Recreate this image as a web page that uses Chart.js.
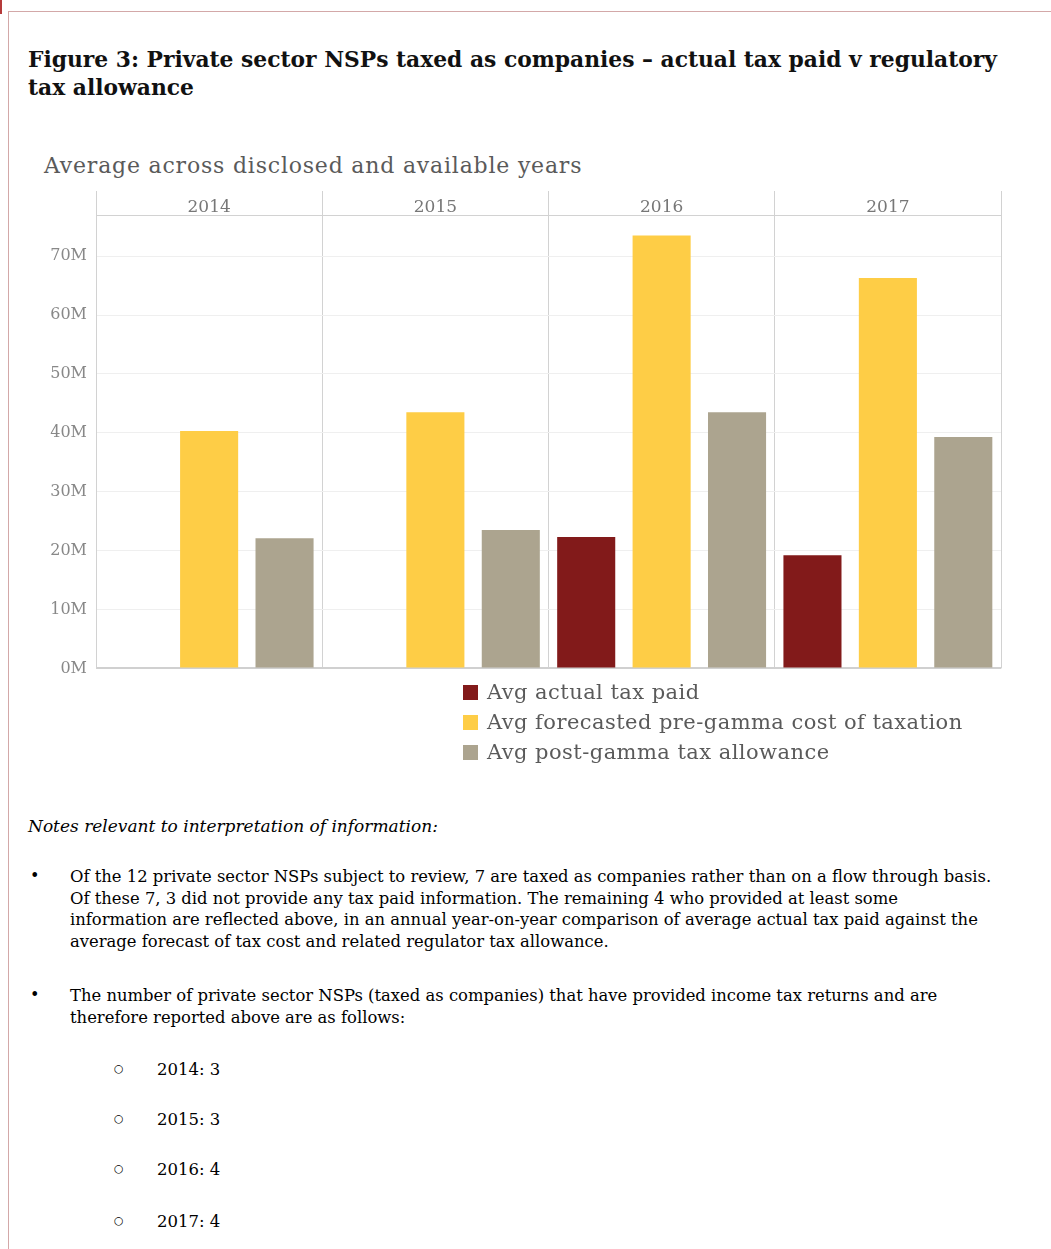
<!DOCTYPE html>
<html>
<head>
<meta charset="utf-8">
<script src="https://cdn.jsdelivr.net/npm/chart.js@4"></script>
<style>
  html, body { margin: 0; padding: 0; background: #fff; }
  body { width: 1051px; height: 1249px; position: relative; overflow: hidden; }
  .mark { position: absolute; left: 0; top: 0; width: 2px; height: 14px; background: #b53a3a; }
  .frame { position: absolute; left: 8px; top: 11px; right: -2px; bottom: -2px;
           border-top: 1px solid #d3a8a8; border-left: 1px solid #d3a8a8; }
  .title { position: absolute; left: 28px; top: 46px; font-family: "DejaVu Serif", serif;
           font-weight: bold; font-size: 21.8px; line-height: 28px; color: #111; white-space: nowrap; }
  .subtitle { position: absolute; left: 44px; top: 151px; font-family: "DejaVu Serif", serif;
              font-size: 22px; letter-spacing: 0.8px; line-height: 30px; color: #5a5a5a; white-space: nowrap; }
  #wrap { position: absolute; left: 0; top: 180px; width: 1051px; height: 507px; }
  #legend { position: absolute; left: 463px; top: 677px; font-family: "DejaVu Serif", serif;
            font-size: 21px; letter-spacing: 0.45px; color: #5a5a5a; }
  #legend div { height: 30px; line-height: 30px; white-space: nowrap; }
  #legend span.sw { display: inline-block; width: 15px; height: 15px; margin-right: 9px; vertical-align: -1px; }
  .notes { font-family: "DejaVu Serif", serif; color: #000; }
  .nhead { position: absolute; left: 28px; top: 814px; font-style: italic; font-size: 17px; line-height: 24px; white-space: nowrap; }
  .bul { position: absolute; left: 30px; font-size: 16px; }
  .para { position: absolute; left: 70px; font-size: 16.4px; line-height: 21.7px; white-space: nowrap; }
  .circ { position: absolute; left: 114px; font-size: 11px; }
  .sub { position: absolute; left: 157px; font-size: 16.5px; line-height: 22px; white-space: nowrap; }
</style>
</head>
<body>
<div class="mark"></div>
<div class="frame"></div>
<div class="title">Figure 3: Private sector NSPs taxed as companies – actual tax paid v regulatory<br>tax allowance</div>
<div class="subtitle">Average across disclosed and available years</div>
<div id="wrap"><canvas id="chart"></canvas></div>
<div id="legend"></div>

<div class="notes">
  <div class="nhead">Notes relevant to interpretation of information:</div>
  <div class="bul" style="top:866px">•</div>
  <div class="para" style="top:866px">Of the 12 private sector NSPs subject to review, 7 are taxed as companies rather than on a flow through basis.<br>Of these 7, 3 did not provide any tax paid information. The remaining 4 who provided at least some<br>information are reflected above, in an annual year-on-year comparison of average actual tax paid against the<br>average forecast of tax cost and related regulator tax allowance.</div>
  <div class="bul" style="top:985px">•</div>
  <div class="para" style="top:985px">The number of private sector NSPs (taxed as companies) that have provided income tax returns and are<br>therefore reported above are as follows:</div>
  <div id="sublist"></div>
</div>

<script>
// Years shown across the top header
const years = ['2014', '2015', '2016', '2017'];

// Series values (average, in dollars)
const actualTaxPaid = [null, null, 22.3e6, 19.2e6];
const forecastPreGamma = [40.3e6, 43.5e6, 73.5e6, 66.3e6];
const postGammaAllowance = [22.1e6, 23.5e6, 43.5e6, 39.3e6];

// Series names and colours
const seriesNames = ['Avg actual tax paid', 'Avg forecasted pre-gamma cost of taxation', 'Avg post-gamma tax allowance'];
const seriesColors = ['#821a1a', '#fecd46', '#aca48f'];

// Value axis ticks
const yTickValues = [0, 10e6, 20e6, 30e6, 40e6, 50e6, 60e6, 70e6];
const yMax = 77e6;

// Number of NSPs reporting per year
const reportCounts = [3, 3, 4, 4];

const seriesValues = [actualTaxPaid, forecastPreGamma, postGammaAllowance];

const data = {
  labels: years,
  datasets: seriesNames.map((name, i) => ({
    label: name,
    data: seriesValues[i],
    backgroundColor: seriesColors[i],
    borderWidth: 0,
    categoryPercentage: 1.0,
    barPercentage: 0.77
  }))
};

new Chart(document.getElementById('chart'), {
  type: 'bar',
  data,
  options: {
    responsive: true,
    maintainAspectRatio: false,
    animation: false,
    layout: { padding: { left: 40, right: 50, top: 11, bottom: 13 } },
    plugins: { legend: { display: false }, tooltip: { enabled: false } },
    scales: {
      x: {
        position: 'top',
        grid: { offset: true, color: '#d2d2d2', lineWidth: 1, drawTicks: true, tickLength: 24, tickColor: '#d2d2d2' },
        border: { display: true, color: '#d2d2d2' },
        ticks: { color: '#777', padding: -27, font: { family: 'DejaVu Serif', size: 17 } },
        afterFit: s => { s.height = 24; }
      },
      y: {
        min: 0,
        max: yMax,
        afterBuildTicks: s => { s.ticks = yTickValues.map(v => ({ value: v })); },
        afterFit: s => { s.width = 56; },
        grid: {
          drawTicks: false,
          color: ctx => (ctx.tick && ctx.tick.value === 0) ? '#d0d0d0' : '#efefef',
          lineWidth: ctx => (ctx.tick && ctx.tick.value === 0) ? 2 : 1
        },
        border: { display: true, color: '#d2d2d2' },
        ticks: {
          color: '#888',
          padding: 9,
          font: { family: 'DejaVu Serif', size: 16 },
          callback: v => (v / 1e6) + 'M'
        }
      }
    }
  }
});

// Legend built from the series arrays
const legend = document.getElementById('legend');
seriesNames.forEach((name, i) => {
  const row = document.createElement('div');
  const sw = document.createElement('span');
  sw.className = 'sw';
  sw.style.background = seriesColors[i];
  row.appendChild(sw);
  row.appendChild(document.createTextNode(name));
  legend.appendChild(row);
});

// Per-year counts list
const sublist = document.getElementById('sublist');
const subTops = [1059, 1109, 1159, 1211];
years.forEach((y, i) => {
  const c = document.createElement('div');
  c.className = 'circ';
  c.style.top = (subTops[i] + 3) + 'px';
  c.textContent = '○';
  const t = document.createElement('div');
  t.className = 'sub';
  t.style.top = subTops[i] + 'px';
  t.textContent = y + ': ' + reportCounts[i];
  sublist.appendChild(c);
  sublist.appendChild(t);
});
</script>
</body>
</html>
